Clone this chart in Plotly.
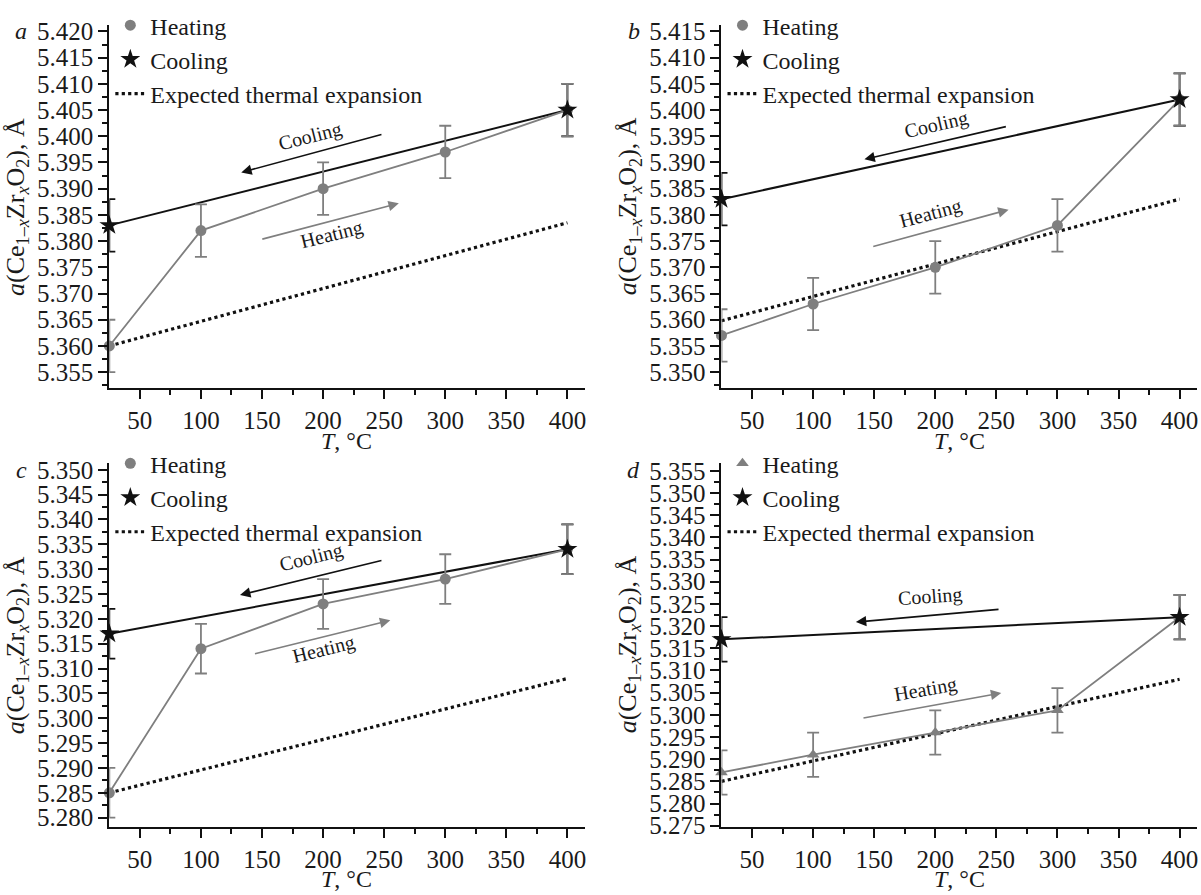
import plotly.graph_objects as go

W, H = 1201, 895

# ---------------- data ----------------
T_heat = [25, 100, 200, 300, 400]
T_cool = [25, 400]
T_exp = [25, 400]

heat_a = [5.360, 5.382, 5.390, 5.397, 5.405]
cool_a = [5.383, 5.405]
exp_a = [5.3600, 5.3835]

heat_b = [5.357, 5.363, 5.370, 5.378, 5.402]
cool_b = [5.383, 5.402]
exp_b = [5.3598, 5.3830]

heat_c = [5.285, 5.314, 5.323, 5.328, 5.334]
cool_c = [5.317, 5.334]
exp_c = [5.2850, 5.3080]

heat_d = [5.287, 5.291, 5.296, 5.301, 5.322]
cool_d = [5.317, 5.322]
exp_d = [5.2850, 5.3080]

err_heat = [0.005, 0.005, 0.005, 0.005, 0.005]
err_cool = [0.005, 0.005]

panel_labels = ["a", "b", "c", "d"]
heat_symbols = ["circle", "circle", "circle", "triangle-up"]
x_tick_vals = [50, 100, 150, 200, 250, 300, 350, 400]
x_minor_vals = [75, 125, 175, 225, 275, 325, 375]

# arrow annotations per panel: (tail T, tail a, head T, head a)
cool_arrows = [(249, 5.4004, 133, 5.3931), (259, 5.3969, 142, 5.3906),
               (249, 5.3318, 132, 5.3248), (253, 5.3238, 135, 5.3209)]
heat_arrows = [(149, 5.3803, 262, 5.3872), (148, 5.3739, 260, 5.3810),
               (143, 5.3129, 255, 5.3197), (140, 5.2992, 254, 5.3049)]
cool_text = [(189, 5.3999, -14), (201, 5.3973, -13), (190, 5.3323, -14), (196, 5.3266, -4)]
heat_text = [(207, 5.3813, -14), (196, 5.3802, -15), (200, 5.3138, -14), (192, 5.3057, -10)]

y_ranges = [[5.3519, 5.4213], [5.3469, 5.4163], [5.2782, 5.3514], [5.2748, 5.3568]]
x_range = [25, 414]

# ---------------- layout geometry (pixels) ----------------
x_left = [109.5, 722.7, 109.5, 722.7]
plot_w = 476.0
y_top = [19.0, 19.0, 466.7, 466.7]
plot_h = 371.7

heats = [heat_a, heat_b, heat_c, heat_d]
cools = [cool_a, cool_b, cool_c, cool_d]
exps = [exp_a, exp_b, exp_c, exp_d]

GRAY = "#7f7f7f"
INK = "#1a1a1a"
FONT = "Liberation Serif"
FS = 24
TFS = 25

fig = go.Figure()
layout = dict(
    width=W, height=H, margin=dict(l=0, r=0, t=0, b=0),
    paper_bgcolor="white", plot_bgcolor="white",
    font=dict(family=FONT, size=FS, color=INK),
    annotations=[], showlegend=True,
)

for i in range(4):
    sfx = "" if i == 0 else str(i + 1)
    xa, ya = "x" + sfx, "y" + sfx
    leg = "legend" if i == 0 else "legend" + str(i + 1)

    # expected
    fig.add_trace(go.Scatter(x=T_exp, y=exps[i], mode="lines", xaxis=xa, yaxis=ya,
                             line=dict(color="#111", width=3.2, dash="dot"),
                             showlegend=False, cliponaxis=False))
    # cooling line + error bars (underneath)
    fig.add_trace(go.Scatter(x=T_cool, y=cools[i], mode="lines", xaxis=xa, yaxis=ya,
                             line=dict(color="#111", width=2),
                             error_y=dict(type="data", array=err_cool, color="#111",
                                          thickness=1.8, width=6),
                             showlegend=False, cliponaxis=False))
    # heating
    fig.add_trace(go.Scatter(x=T_heat, y=heats[i], mode="lines+markers", xaxis=xa, yaxis=ya,
                             line=dict(color=GRAY, width=1.8),
                             marker=dict(color=GRAY, size=11, symbol=heat_symbols[i]),
                             error_y=dict(type="data", array=err_heat, color=GRAY,
                                          thickness=1.8, width=6),
                             showlegend=False, cliponaxis=False))
    # cooling stars on top
    fig.add_trace(go.Scatter(x=T_cool, y=cools[i], mode="markers", xaxis=xa, yaxis=ya,
                             marker=dict(color="#111", size=15, symbol="star"),
                             showlegend=False, cliponaxis=False))
    # legend proxies
    fig.add_trace(go.Scatter(x=[None], y=[None], mode="markers", name="Heating",
                             xaxis=xa, yaxis=ya, legend=leg, legendgroup=f"h{i}",
                             marker=dict(color=GRAY, size=11, symbol=heat_symbols[i])))
    fig.add_trace(go.Scatter(x=[None], y=[None], mode="markers", name="Cooling",
                             xaxis=xa, yaxis=ya, legend=leg, legendgroup=f"c{i}",
                             marker=dict(color="#111", size=15, symbol="star")))
    fig.add_trace(go.Scatter(x=[None], y=[None], mode="lines", name="Expected thermal expansion",
                             xaxis=xa, yaxis=ya, legend=leg, legendgroup=f"e{i}",
                             line=dict(color="#111", width=3.2, dash="dot")))

    x0 = x_left[i] / W
    x1 = (x_left[i] + plot_w) / W
    y0 = 1 - (y_top[i] + plot_h) / H
    y1 = 1 - y_top[i] / H

    layout["xaxis" + sfx] = dict(
        domain=[x0, x1], anchor=ya, range=x_range, showgrid=False, zeroline=False,
        showline=True, linecolor="#111", linewidth=2,
        ticks="outside", ticklen=9, tickwidth=2, tickcolor="#111",
        tickvals=x_tick_vals,
        minor=dict(tickvals=x_minor_vals, ticks="outside",
                   ticklen=5, tickwidth=2, tickcolor="#111"),
        tickfont=dict(family=FONT, size=TFS, color=INK),
    )
    layout["yaxis" + sfx] = dict(
        domain=[y0, y1], anchor=xa, range=y_ranges[i], showgrid=False, zeroline=False,
        showline=True, linecolor="#111", linewidth=2,
        ticks="outside", ticklen=9, tickwidth=2, tickcolor="#111",
        dtick=0.005, tick0=5.0, tickformat=".3f",
        minor=dict(dtick=0.0025, tick0=5.0, ticks="outside", ticklen=5, tickwidth=2,
                   tickcolor="#111"),
        tickfont=dict(family=FONT, size=TFS, color=INK),
    )
    layout[leg] = dict(
        x=(x_left[i] + 1) / W, y=1 - (y_top[i] - 22) / H, xanchor="left", yanchor="top",
        bgcolor="rgba(0,0,0,0)", borderwidth=0, tracegroupgap=0,
        font=dict(family=FONT, size=FS, color=INK),
    )

    # axis titles
    layout["annotations"].append(dict(
        text="<i>T</i>, °C", x=(x_left[i] + plot_w / 2) / W,
        y=1 - (y_top[i] + plot_h + 54) / H, xref="paper", yref="paper",
        showarrow=False, xanchor="center", yanchor="middle",
        font=dict(family=FONT, size=FS, color=INK)))
    layout["annotations"].append(dict(
        text="<i>a</i>(Ce<sub>1–<i>x</i></sub>Zr<sub><i>x</i></sub>O<sub>2</sub>), Å",
        x=(x_left[i] - 93) / W, y=1 - (y_top[i] + plot_h / 2) / H,
        xref="paper", yref="paper", showarrow=False, textangle=-90,
        xanchor="center", yanchor="middle",
        font=dict(family=FONT, size=26, color=INK)))

    # panel letter
    layout["annotations"].append(dict(
        text=f"<i>{panel_labels[i]}</i>", x=(x_left[i] - 88) / W, y=1 - (y_top[i] + 7) / H,
        xref="paper", yref="paper", showarrow=False, xanchor="center", yanchor="middle",
        font=dict(family=FONT, size=FS, color=INK)))

    # arrows
    for (tx, ty, hx, hy), col in ((cool_arrows[i], "#111"), (heat_arrows[i], GRAY)):
        layout["annotations"].append(dict(
            x=hx, y=hy, ax=tx, ay=ty, xref=xa, yref=ya, axref=xa, ayref=ya,
            showarrow=True, arrowhead=2, arrowsize=1.3, arrowwidth=1.6, arrowcolor=col,
            text=""))
    for (tx, ty, ang), label in ((cool_text[i], "Cooling"), (heat_text[i], "Heating")):
        layout["annotations"].append(dict(
            x=tx, y=ty, xref=xa, yref=ya, text=label, showarrow=False, textangle=ang,
            font=dict(family=FONT, size=20, color=INK)))

fig.update_layout(**layout)
fig.write_html("out.html")
